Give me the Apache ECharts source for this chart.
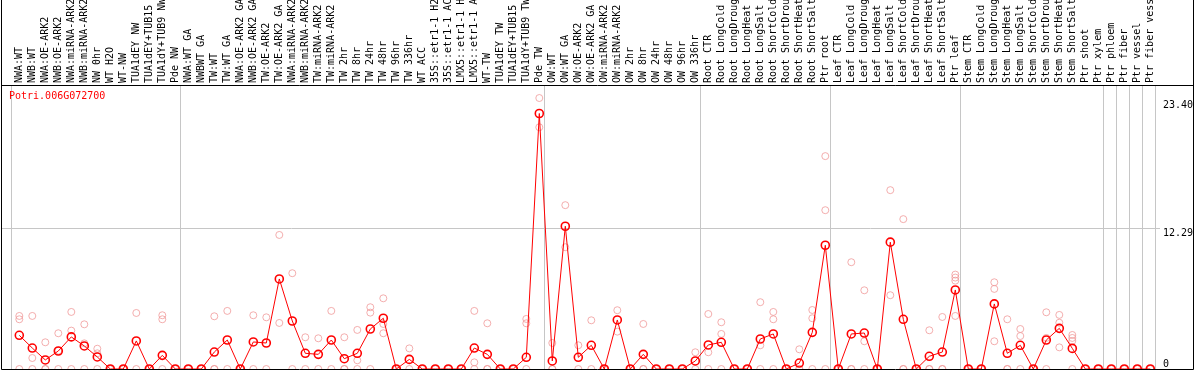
<!DOCTYPE html>
<html><head><meta charset="utf-8">
<script src="https://cdn.jsdelivr.net/npm/echarts@6/dist/echarts.min.js"></script>
<style>html,body{margin:0;padding:0;background:#fff}#c{width:1194px;height:370px}</style>
</head><body><div id="c"></div>
<script>
const geneId = 'Potri.006G072700';
const categories = [
 'NWA:WT','NWB:WT','NWA:OE-ARK2','NWB:OE-ARK2','NWA:miRNA-ARK2','NWB:miRNA-ARK2','NW 0hr','WT H2O','WT-NW','TUA1dEY NW','TUA1dEY+TUB15','TUA1dY+TUB9 NW','Pde NW',
 'NWA:WT GA','NWBWT GA','TW:WT','TW:WT GA','NWA:OE-ARK2 GA','NWB:OE-ARK2 GA','TW:OE-ARK2','TW:OE-ARK2 GA','NWA:miRNA-ARK2 GA','NWB:miRNA-ARK2 GA','TW:miRNA-ARK2','TW:miRNA-ARK2','TW 2hr','TW 8hr','TW 24hr','TW 48hr','TW 96hr','TW 336hr','WT ACC','35S::etr1-1 H2O','35S::etr1-1 ACC','LMX5::etr1-1 H2O','LMX5::etr1-1 ACC','WT-TW','TUA1dEY TW','TUA1dEY+TUB15','TUA1dY+TUB9 TW','Pde TW',
 'OW:WT','OW:WT GA','OW:OE-ARK2','OW:OE-ARK2 GA','OW:miRNA-ARK2','OW:miRNA-ARK2','OW 2hr','OW 8hr','OW 24hr','OW 48hr','OW 96hr','OW 336hr',
 'Root CTR','Root LongCold','Root LongDrought','Root LongHeat','Root LongSalt','Root ShortCold','Root ShortDrought','Root ShortHeat','Root ShortSalt','Ptr root',
 'Leaf CTR','Leaf LongCold','Leaf LongDrought','Leaf LongHeat','Leaf LongSalt','Leaf ShortCold','Leaf ShortDrought','Leaf ShortHeat','Leaf ShortSalt','Ptr leaf',
 'Stem CTR','Stem LongCold','Stem LongDrought','Stem LongHeat','Stem LongSalt','Stem ShortCold','Stem ShortDrought','Stem ShortHeat','Stem ShortSalt','Ptr shoot','Ptr xylem',
 'Ptr phloem','Ptr fiber','Ptr vessel','Ptr fiber vessel'
];
const meanValues = [
 2.94,1.83,0.79,1.57,2.80,2.01,1.05,0,0,2.45,
 0,1.19,0,0,0,1.48,2.53,0,2.36,2.27,
 7.86,4.19,1.37,1.28,2.53,0.90,1.37,3.49,4.43,0,
 0.84,0,0,0,0,1.83,1.28,0,0,1.02,
 22.30,0.70,12.46,1.02,2.07,0,4.28,0,1.28,0,
 0,0,0.70,2.10,2.33,0,0,2.62,3.06,0,
 0.52,3.20,10.80,0,3.06,3.14,0,11.07,4.34,0,
 1.11,1.48,6.90,0,0,5.68,1.37,2.07,0,2.53,
 3.55,1.80,0,0,0,0,0,0
];
const rep1 = [
 4.63,4.63,2.33,3.12,4.98,3.90,1.77,0,0,4.89,
 0,4.69,0,0,0,4.60,5.07,0,4.69,4.51,
 11.70,8.36,2.77,2.68,5.07,2.77,3.41,5.39,6.17,0,
 1.80,0,0,0,0,5.07,3.99,0,0,4.37,
 23.65,2.27,14.30,2.07,4.25,0,5.13,0,3.93,0,
 0,0,1.46,4.80,4.08,0,0,5.83,4.98,0,
 1.72,5.15,18.58,0,9.32,6.87,0,15.61,13.08,0,
 3.38,4.54,8.24,0,0,7.57,4.34,3.49,0,4.95,
 4.72,2.97,0,0,0,0,0,0
];
const rep2 = [
 4.34,0.96,0,1.60,3.35,2.24,1.37,0,0,0,
 0,4.34,0,0,0,0,0,0,0,0,
 4.02,0,0,0,0,0,0.76,4.92,3.93,0,
 0,0,0,0,0,0.58,0,0,0,3.99,
 21.10,0,10.63,0,0,0,3.26,0,0,0,
 0,0,0,1.46,3.06,0,0,2.07,4.34,0,
 0,4.43,13.86,0,0,2.42,0,6.44,0,0,
 0,0,7.98,0,0,6.99,0,2.88,0,2.71,
 4.04,2.71,0,0,0,0,0,0
];
const rep3 = [
 0,0,0,0,0,0,0,0,0,null,
 null,0,null,null,null,0,null,null,null,null,
 null,null,null,null,null,0,0,0,3.12,null,
 null,null,null,null,null,0,0,null,null,0,
 null,0,null,null,null,null,null,null,0,null,
 null,null,null,0,0,null,null,0,0,null,
 0,0,0,null,0,0,null,null,0,null,
 0,0,7.71,null,null,2.42,0,0,null,0,
 1.89,2.45,null,null,null,null,null,null
];
const rep4 = [
 null,null,null,null,null,null,null,null,null,null,
 null,null,null,null,null,null,null,null,null,null,
 null,null,null,null,null,null,null,null,null,null,
 null,null,null,null,null,null,null,null,null,null,
 null,null,null,null,null,null,null,null,null,null,
 null,null,null,null,null,null,null,null,null,null,
 null,null,null,null,null,null,null,null,null,null,
 null,null,4.63,null,null,null,null,null,null,null,
 null,0,null,null,null,null,null,null
];
const groupStarts = [0,13,41,53,63,73,84,85,86,87,88];
const yTickLabels = [23.40, 12.29];
const yZeroLabel = [0];

const FONT = '"DejaVu Sans Mono", monospace';
const GRAY = '#c6c6c6';
const separators = groupStarts.map(k => k - 0.62);
const toPts = arr => arr.map((v, i) => v == null ? null : [i, v]).filter(p => p);
const repSeries = [rep1, rep2, rep3, rep4].map(r => ({
  type: 'scatter', data: toPts(r), symbol: 'circle', symbolSize: 7, z: 3, silent: true,
  itemStyle: { color: 'rgba(0,0,0,0)', borderColor: '#f09a9a', borderWidth: 1 }
}));
const yAxisBase = { type: 'value', position: 'right', min: 0, max: 24.7,
  splitLine: { show: false }, axisLine: { show: false }, axisTick: { show: false } };

const chart = echarts.init(document.getElementById('c'), null, { renderer: 'canvas' });
chart.setOption({
  animation: false,
  title: { text: geneId, left: 9, top: 91, padding: 0,
    textStyle: { color: '#ff0000', fontSize: 10, fontFamily: FONT, fontWeight: 'normal' } },
  grid: { left: 2, right: 34, top: 86, bottom: 1, containLabel: false, outerBoundsMode: 'none' },
  xAxis: { type: 'value', position: 'top', min: -1.3308, max: 87.746,
    axisLine: { show: false }, splitLine: { show: false },
    axisTick: { show: true, customValues: separators, length: 86, inside: false, lineStyle: { color: GRAY, width: 1 } },
    axisLabel: { show: true, customValues: categories.map((c, i) => i), rotate: 90, margin: 3,
      formatter: v => categories[Math.round(v)], fontFamily: FONT, fontSize: 10, color: '#000' } },
  yAxis: [
    Object.assign({}, yAxisBase, { axisLabel: { customValues: yTickLabels, formatter: v => v.toFixed(2),
      verticalAlign: 'top', margin: 3, fontFamily: FONT, fontSize: 10, color: '#000' } }),
    Object.assign({}, yAxisBase, { axisLabel: { customValues: yZeroLabel, formatter: v => String(v),
      verticalAlign: 'bottom', margin: 3, fontFamily: FONT, fontSize: 10, color: '#000' } })
  ],
  graphic: [
    { type: 'rect', silent: true, z: 100, shape: { x: 1.5, y: -2, width: 1192, height: 371.5 },
      style: { fill: null, stroke: '#000', lineWidth: 1 } },
    { type: 'line', silent: true, z: 100, shape: { x1: 1, y1: 85.5, x2: 1194, y2: 85.5 },
      style: { stroke: '#000', lineWidth: 1 } }
  ],
  series: [
    { type: 'line', data: [], z: 1, silent: true,
      markLine: { silent: true, symbol: 'none', label: { show: false }, animation: false,
        lineStyle: { color: GRAY, type: 'solid', width: 1 },
        data: separators.map(v => ({ xAxis: v })).concat([{ yAxis: yTickLabels[1] }]) } },
    ...repSeries,
    { type: 'line', data: meanValues.map((v, i) => [i, v]), z: 5, silent: true,
      symbol: 'circle', symbolSize: 8, showAllSymbol: true,
      lineStyle: { color: '#ff0000', width: 1 },
      itemStyle: { color: 'rgba(0,0,0,0)', borderColor: '#ff0000', borderWidth: 1.6 } }
  ]
});
</script></body></html>
